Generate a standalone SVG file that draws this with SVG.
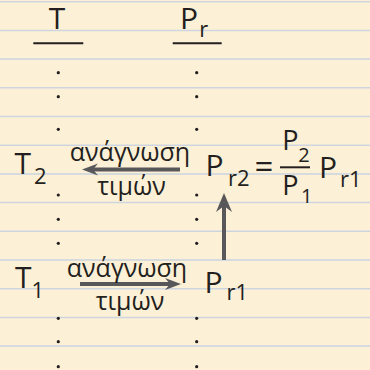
<svg xmlns="http://www.w3.org/2000/svg" width="370" height="370" viewBox="0 0 370 370">
<style>
text{font-family:"Open Sans","Noto Sans",sans-serif;fill:#231f20}
.b{font-size:30px}
.s{font-size:22px}
.g{font-size:25px}
.fb{font-size:27px}
.fs{font-size:20px}
.eq{font-size:33px}
.rule{stroke:#cdd5df;stroke-width:1.5}
.ul{stroke:#231f20;stroke-width:2}
.dot{fill:#231f20}
.arr{stroke:#58585a;stroke-width:4;fill:none}
</style>
<defs>
<marker id="ah" markerUnits="userSpaceOnUse" viewBox="-17 -7 18 14" markerWidth="18" markerHeight="14" refX="-11" refY="0" orient="auto">
<path d="M0,0 L-16,-6 L-11,0 L-16,6 Z" fill="#58585a"/>
</marker>
<marker id="av" markerUnits="userSpaceOnUse" viewBox="-20 -9 21 18" markerWidth="21" markerHeight="18" refX="-13" refY="0" orient="auto">
<path d="M0,0 L-19,-8 L-13,0 L-19,8 Z" fill="#58585a"/>
</marker>
</defs>
<rect width="370" height="370" fill="#fcf0d6"/>
<g id="paper-lines">
<line class="rule" x1="0" y1="1.7" x2="370" y2="1.7"/>
<line class="rule" x1="0" y1="30.4" x2="370" y2="30.4"/>
<line class="rule" x1="0" y1="59.1" x2="370" y2="59.1"/>
<line class="rule" x1="0" y1="87.8" x2="370" y2="87.8"/>
<line class="rule" x1="0" y1="116.5" x2="370" y2="116.5"/>
<line class="rule" x1="0" y1="145.2" x2="370" y2="145.2"/>
<line class="rule" x1="0" y1="173.9" x2="370" y2="173.9"/>
<line class="rule" x1="0" y1="202.6" x2="370" y2="202.6"/>
<line class="rule" x1="0" y1="231.3" x2="370" y2="231.3"/>
<line class="rule" x1="0" y1="260" x2="370" y2="260"/>
<line class="rule" x1="0" y1="288.7" x2="370" y2="288.7"/>
<line class="rule" x1="0" y1="317.4" x2="370" y2="317.4"/>
<line class="rule" x1="0" y1="346.1" x2="370" y2="346.1"/>
</g>
<g id="header-T">
<text class="b" x="57" y="28.5" text-anchor="middle">T</text>
<line class="ul" x1="33.3" y1="43.3" x2="83.3" y2="43.3"/>
</g>
<g id="header-Pr">
<text class="b" x="180" y="28.5">P</text>
<text class="s" x="199.3" y="37">r</text>
<line class="ul" x1="172.7" y1="43.3" x2="221.7" y2="43.3"/>
</g>
<g id="dots">
<circle class="dot" cx="58.3" cy="72.7" r="1.6"/><circle class="dot" cx="196.7" cy="72.7" r="1.6"/>
<circle class="dot" cx="58.3" cy="96.7" r="1.6"/><circle class="dot" cx="196.7" cy="96.7" r="1.6"/>
<circle class="dot" cx="58.3" cy="129.3" r="1.6"/><circle class="dot" cx="196.7" cy="129.3" r="1.6"/>
<circle class="dot" cx="58.3" cy="195" r="1.6"/><circle class="dot" cx="196.7" cy="195" r="1.6"/>
<circle class="dot" cx="58.3" cy="219.3" r="1.6"/><circle class="dot" cx="196.7" cy="219.3" r="1.6"/>
<circle class="dot" cx="58.3" cy="243.3" r="1.6"/><circle class="dot" cx="196.7" cy="243.3" r="1.6"/>
<circle class="dot" cx="58.3" cy="318.3" r="1.6"/><circle class="dot" cx="196.7" cy="318.3" r="1.6"/>
<circle class="dot" cx="58.3" cy="341.7" r="1.6"/><circle class="dot" cx="196.7" cy="341.7" r="1.6"/>
<circle class="dot" cx="58.3" cy="366.7" r="1.6"/><circle class="dot" cx="196.7" cy="366.7" r="1.6"/>
</g>
<g id="T2">
<text class="b" x="22.7" y="174.3" text-anchor="middle">T</text>
<text class="s" x="34" y="183.5">2</text>
</g>
<g id="T1">
<text class="b" x="23.3" y="288.3" text-anchor="middle">T</text>
<text class="s" x="31.5" y="298">1</text>
</g>
<g id="Pr2">
<text class="b" x="205.5" y="176">P</text>
<text class="s" x="228" y="185.5">r2</text>
<text class="eq" x="264" y="177.5" text-anchor="middle">=</text>
<line class="ul" x1="280" y1="167.3" x2="310" y2="167.3"/>
<text class="fb" x="282.3" y="150">P</text>
<text class="fs" x="298.3" y="161.7">2</text>
<text class="fb" x="282.3" y="195">P</text>
<text class="fs" x="301" y="203.3">1</text>
<text class="b" x="319" y="178">P</text>
<text class="s" x="340" y="187">r1</text>
</g>
<g id="Pr1">
<text class="b" x="204.5" y="292.7">P</text>
<text class="s" x="226.5" y="300.3">r1</text>
</g>
<g id="connectors">
<line class="arr" x1="180" y1="169.5" x2="93" y2="169.5" marker-end="url(#ah)"/>
<text class="g" x="130" y="160.5" text-anchor="middle">ανάγνωση</text>
<text class="g" x="131.5" y="194.5" text-anchor="middle">τιμών</text>
<line class="arr" x1="80" y1="284" x2="170" y2="284" marker-end="url(#ah)"/>
<text class="g" x="127" y="276.5" text-anchor="middle">ανάγνωση</text>
<text class="g" x="130" y="310" text-anchor="middle">τιμών</text>
<line class="arr" x1="224" y1="260" x2="224" y2="206" marker-end="url(#av)"/>
</g>
</svg>
